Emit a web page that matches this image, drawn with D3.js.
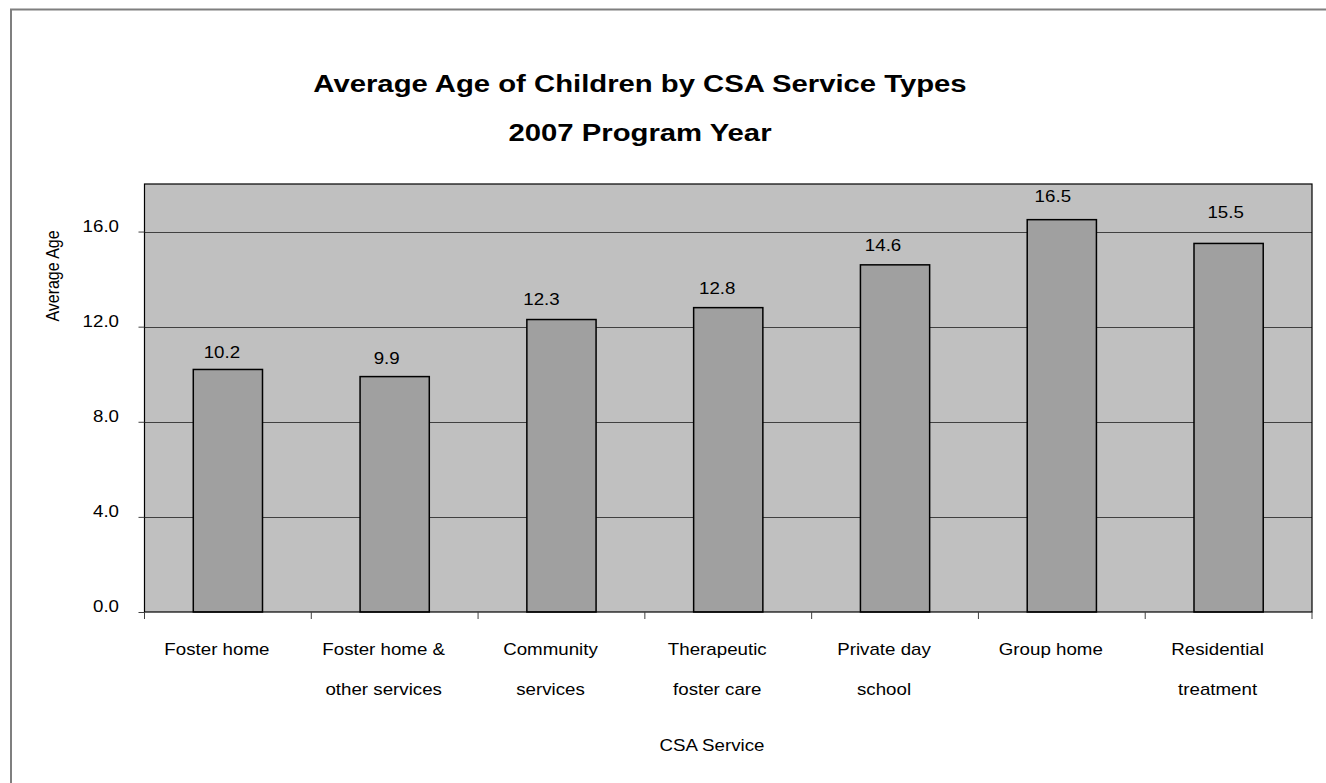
<!DOCTYPE html>
<html>
<head>
<meta charset="utf-8">
<script src="https://cdn.jsdelivr.net/npm/d3@7"></script>
<style>
  html, body { margin: 0; padding: 0; background: #ffffff; }
  svg { display: block; font-family: "Liberation Sans", Arial, sans-serif; }
</style>
</head>
<body>
<svg id="chart" width="1326" height="783"></svg>
<script>
// ---- data ----
const categories = [
  ["Foster home"],
  ["Foster home &", "other services"],
  ["Community", "services"],
  ["Therapeutic", "foster care"],
  ["Private day", "school"],
  ["Group home"],
  ["Residential", "treatment"]
];
const averageAge = [10.2, 9.9, 12.3, 12.8, 14.6, 16.5, 15.5];
const yTickValues = [0, 4, 8, 12, 16];
const titleLines = ["Average Age of Children by CSA Service Types", "2007 Program Year"];
const xAxisTitle = "CSA Service";
const yAxisTitle = "Average Age";

// ---- layout / style ----
const W = 1326, H = 783;
const plot = { left: 144.5, right: 1312, top: 184, bottom: 612 };
const SX = 1.17;          // horizontal stretch of the reference's text
const labelLift = [11, 13, 15, 14, 14, 17.5, 25];   // px from bar top to value-label baseline
const labelNudge = [-6, -8, -20, -11, -12, -9, -3]; // px horizontal nudge of value labels
const svg = d3.select("#chart");

function stretchedText(g, px, py, sx) {
  return g.append("g").attr("transform", `translate(${px},${py}) scale(${sx},1)`).append("text");
}

// outer frame
svg.append("rect")
  .attr("x", 11).attr("y", 9.5).attr("width", W + 20).attr("height", H + 20)
  .attr("fill", "#ffffff").attr("stroke", "#7f7f7f").attr("stroke-width", 2);

const keys = categories.map((c, i) => "c" + i);
const x = d3.scaleBand().domain(keys).range([plot.left, plot.right]).padding(0);
const y = d3.scaleLinear().domain([0, 18]).range([plot.bottom, plot.top]);
const barW = x.bandwidth() * 0.415;

// plot background
svg.append("rect")
  .attr("x", plot.left).attr("y", plot.top)
  .attr("width", plot.right - plot.left).attr("height", plot.bottom - plot.top)
  .attr("fill", "#c0c0c0");

// gridlines
svg.append("g").selectAll("line").data(yTickValues.filter(v => v > 0)).join("line")
  .attr("x1", plot.left).attr("x2", plot.right)
  .attr("y1", d => Math.round(y(d)) + 0.5).attr("y2", d => Math.round(y(d)) + 0.5)
  .attr("stroke", "#404040").attr("stroke-width", 1);

// bars
svg.append("g").selectAll("rect").data(averageAge).join("rect")
  .attr("x", (d, i) => x(keys[i]) + (x.bandwidth() - barW) / 2)
  .attr("y", d => y(d))
  .attr("width", barW)
  .attr("height", d => y(0) - y(d))
  .attr("fill", "#a0a0a0").attr("stroke", "#000000").attr("stroke-width", 1.5);

// plot border
svg.append("rect")
  .attr("x", plot.left).attr("y", plot.top)
  .attr("width", plot.right - plot.left).attr("height", plot.bottom - plot.top)
  .attr("fill", "none").attr("stroke", "#000000").attr("stroke-width", 1.2);

// value labels
const vl = svg.append("g");
averageAge.forEach((d, i) => {
  stretchedText(vl, x(keys[i]) + x.bandwidth() / 2 + labelNudge[i], y(d) - labelLift[i], SX)
    .attr("text-anchor", "middle").attr("font-size", 16).attr("fill", "#000")
    .text(d.toFixed(1));
});

// y axis
const yAxis = d3.axisLeft(y).tickValues(yTickValues).tickSize(6).tickFormat(d3.format(".1f"));
const gy = svg.append("g").attr("transform", `translate(${plot.left},0)`).call(yAxis);
gy.select(".domain").remove();
gy.selectAll(".tick line").attr("stroke", "#404040");
gy.selectAll(".tick text").remove();
gy.selectAll(".tick").each(function(v) {
  stretchedText(d3.select(this), -25.5, -0.5, SX)
    .attr("text-anchor", "end").attr("font-size", 16)
    .attr("font-family", "Liberation Sans, Arial, sans-serif").attr("fill", "#000")
    .text(d3.format(".1f")(v));
});

// x axis ticks at category boundaries
const boundaries = keys.map(k => x(k)).concat([plot.right]);
svg.append("g").selectAll("line").data(boundaries).join("line")
  .attr("x1", d => d).attr("x2", d => d)
  .attr("y1", plot.bottom).attr("y2", plot.bottom + 7)
  .attr("stroke", "#404040").attr("stroke-width", 1);

// x category labels
const xg = svg.append("g");
categories.forEach((lines, i) => {
  lines.forEach((ln, j) => {
    stretchedText(xg, x(keys[i]) + x.bandwidth() / 2 - 11, 655 + j * 40, SX)
      .attr("text-anchor", "middle").attr("font-size", 16).attr("fill", "#000")
      .text(ln);
  });
});

// axis titles
stretchedText(svg, 712, 751, SX)
  .attr("text-anchor", "middle").attr("font-size", 16).attr("fill", "#000")
  .text(xAxisTitle);
svg.append("g").attr("transform", "translate(59,276) scale(1.1,1)")
  .append("text").attr("transform", "rotate(-90)")
  .attr("text-anchor", "middle").attr("font-size", 16).attr("fill", "#000")
  .text(yAxisTitle);

// chart titles
const tg = svg.append("g");
titleLines.forEach((t, i) => {
  stretchedText(tg, 640, 92 + i * 49, 1.195)
    .attr("text-anchor", "middle")
    .attr("font-size", 24.5).attr("font-weight", "bold").attr("fill", "#000")
    .text(t);
});
</script>
</body>
</html>
